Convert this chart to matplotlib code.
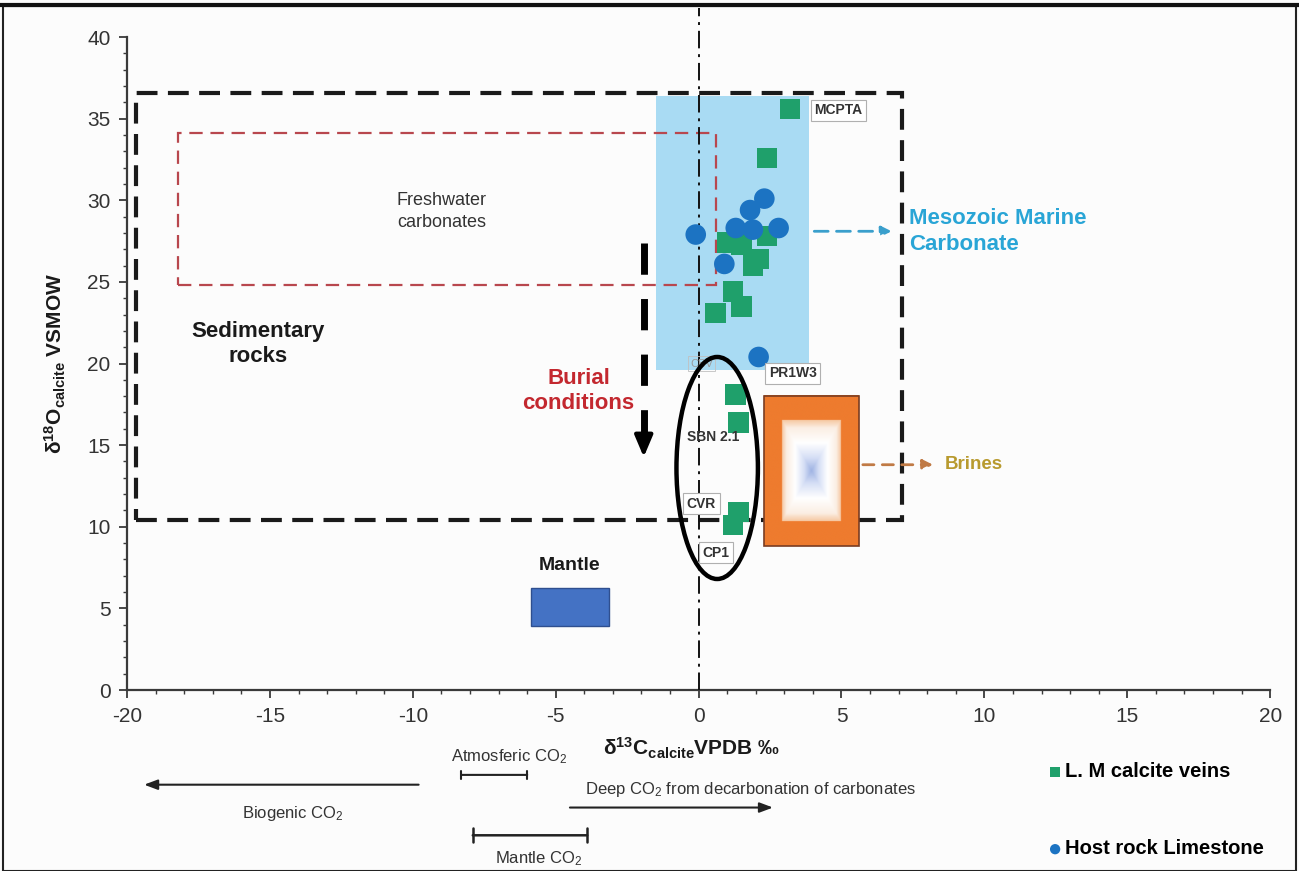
import numpy as np
import matplotlib
matplotlib.use("Agg")
import matplotlib.pyplot as plt
from matplotlib.patches import Rectangle, Ellipse
from matplotlib.colors import LinearSegmentedColormap
from matplotlib.ticker import MultipleLocator

plt.rcParams['font.family'] = ['Liberation Sans', 'DejaVu Sans']
plt.rcParams['mathtext.fontset'] = 'custom'
plt.rcParams['mathtext.rm'] = 'Liberation Sans'
plt.rcParams['mathtext.bf'] = 'Liberation Sans:bold'
plt.rcParams['mathtext.it'] = 'Liberation Sans:italic'
plt.rcParams['axes.unicode_minus'] = False

# L. M calcite veins (d13C, d18O)
veins_x = [3.2, 2.4, 1.0, 1.5, 2.4, 1.9, 2.1, 1.2, 1.5, 0.6, 1.3, 1.4, 1.4, 1.2]
veins_y = [35.6, 32.6, 27.4, 27.3, 27.8, 26.0, 26.4, 24.4, 23.5, 23.1, 18.1, 16.4, 10.9, 10.1]

# host rock limestone
host_x = [2.3, 1.8, 1.3, 1.9, 2.8, -0.1, 0.9, 2.1]
host_y = [30.1, 29.4, 28.3, 28.2, 28.3, 27.9, 26.1, 20.4]

# sample labels
sample_names = ['MCPTA', 'PR1W3', 'SBN 2.1', 'CVR', 'CP1']
sample_x = [4.9, 3.3, 0.5, 0.1, 0.6]
sample_y = [35.5, 19.4, 15.5, 11.4, 8.4]

x_ticks = [-20, -15, -10, -5, 0, 5, 10, 15, 20]
y_ticks = [0, 5, 10, 15, 20, 25, 30, 35, 40]

narrow = ['Liberation Sans Narrow', 'Liberation Sans', 'DejaVu Sans']

fig = plt.figure(figsize=(12.99, 8.71), dpi=100)
fig.patch.set_facecolor('#fcfcfc')
ax = fig.add_axes([0.0978, 0.2078, 0.880, 0.7497])
ax.set_facecolor('#fcfcfc')

ax.set_xlim(-20, 20)
ax.set_ylim(0, 40)
ax.set_xticks(x_ticks)
ax.set_yticks(y_ticks)
ax.xaxis.set_minor_locator(MultipleLocator(1))
ax.yaxis.set_minor_locator(MultipleLocator(1))
for s in ['top', 'right']:
    ax.spines[s].set_visible(False)
for s in ['left', 'bottom']:
    ax.spines[s].set_color('#3a3a3a')
    ax.spines[s].set_linewidth(1.6)
ax.tick_params(which='major', direction='out', length=6, width=1.3, color='#3a3a3a',
               labelsize=15, labelcolor='#333333', pad=6)
ax.tick_params(which='minor', direction='out', length=3, width=1.0, color='#3a3a3a')
for lab in ax.get_xticklabels() + ax.get_yticklabels():
    lab.set_family(narrow)

# field boxes
ax.add_patch(Rectangle((-1.5, 19.6), 5.35, 16.8, facecolor='#a9dbf3', edgecolor='none', zorder=1))
ax.add_patch(Rectangle((-18.2, 24.8), 18.8, 9.3, fill=False, edgecolor='#b8474e',
                       lw=1.6, ls=(0, (6, 3.5)), zorder=2))
ax.add_patch(Rectangle((-19.7, 10.4), 26.8, 26.2, fill=False, edgecolor='#1a1a1a',
                       lw=3, ls=(0, (5, 2.5)), zorder=3))
ax.add_patch(Rectangle((-5.85, 3.95), 2.7, 2.3, facecolor='#4472c4', edgecolor='#2f4f8f',
                       lw=1, zorder=3))

# brines box with a soft inner glow
bx0, bx1, by0, by1 = 2.3, 5.6, 8.8, 18.0
u = np.linspace(-1, 1, 200)
U, V = np.meshgrid(u, u)
Z = np.maximum(np.abs(U) / 0.62, np.abs(V) / 0.67)
glow = LinearSegmentedColormap.from_list('glow', [(0, '#9fb3e3'), (0.25, '#d5def5'),
                                                  (0.55, '#ffffff'), (0.85, '#fbeee3'),
                                                  (1.0, '#f6c9a4')])
glow.set_over('#ee7b2e')
ax.imshow(Z, extent=[bx0, bx1, by0, by1], cmap=glow, vmin=0, vmax=1, aspect='auto',
          origin='lower', interpolation='bilinear', zorder=3)
ax.add_patch(Rectangle((bx0, by0), bx1 - bx0, by1 - by0, fill=False, edgecolor='#7a3d22',
                       lw=1.2, zorder=4))
ax.set_xlim(-20, 20)
ax.set_ylim(0, 40)

# zero line, running up past the top of the axis
ax.plot([0, 0], [0, 41.8], color='#111111', lw=1.4, ls=(0, (9, 3, 1.5, 3)),
        clip_on=False, zorder=4)

# burial arrow
ax.plot([-1.92, -1.92], [27.4, 15.6], color='black', lw=5, ls=(0, (4.5, 3.5)),
        solid_capstyle='butt', zorder=5)
ax.annotate('', xy=(-1.92, 14.1), xytext=(-1.92, 16.0),
            arrowprops=dict(arrowstyle='-|>,head_length=1.3,head_width=0.55',
                            color='black', lw=3), zorder=5)

# data
ax.scatter(veins_x, veins_y, marker='s', s=220, color='#1fa06b', edgecolors='none',
           zorder=6, label='L. M calcite veins')
ax.scatter(host_x, host_y, marker='o', s=220, color='#1c73c2', edgecolors='none',
           zorder=6, label='Host rock Limestone')

# burial ellipse
ax.add_patch(Ellipse((0.65, 13.6), 2.85, 13.6, fill=False, edgecolor='black', lw=3.2, zorder=7))

# sample labels
box = dict(boxstyle='square,pad=0.25', facecolor='white', edgecolor='#b0b0b0', lw=0.8)
for name, x, y in zip(sample_names, sample_x, sample_y):
    ax.text(x, y, name, fontsize=10, fontweight='bold', color='#333333', ha='center',
            va='center', bbox=None if name == 'SBN 2.1' else box, zorder=8)
ax.text(0.1, 20.0, 'CBV', fontsize=8, color='#9a9a9a', ha='center', va='center',
        bbox=dict(boxstyle='square,pad=0.2', facecolor='none', edgecolor='#c0c0c0', lw=0.6),
        zorder=6)

# field names
ax.text(-15.4, 21.2, 'Sedimentary\nrocks', fontsize=16, fontweight='bold', color='#1a1a1a',
        ha='center', va='center', linespacing=1.25)
ax.text(-9.0, 29.3, 'Freshwater\ncarbonates', fontsize=13, color='#333333',
        ha='center', va='center', linespacing=1.4)
ax.text(-4.2, 18.3, 'Burial\nconditions', fontsize=16, fontweight='bold', color='#c3282f',
        ha='center', va='center', linespacing=1.25)
ax.text(-4.5, 7.6, 'Mantle', fontsize=14, fontweight='bold', color='#1a1a1a',
        ha='center', va='center')
ax.text(7.35, 28.1, 'Mesozoic Marine\nCarbonate', fontsize=16, fontweight='bold',
        color='#29a5d6', ha='left', va='center', linespacing=1.3)
ax.text(8.6, 13.8, 'Brines', fontsize=13.5, fontweight='bold', color='#b89a2e',
        ha='left', va='center')

ax.annotate('', xy=(6.85, 28.1), xytext=(3.95, 28.1),
            arrowprops=dict(arrowstyle='-|>,head_length=0.6,head_width=0.3',
                            color='#3a9fcc', lw=2, ls=(0, (5, 3))), zorder=5)
ax.annotate('', xy=(8.3, 13.8), xytext=(5.65, 13.8),
            arrowprops=dict(arrowstyle='-|>,head_length=0.6,head_width=0.3',
                            color='#c07a45', lw=2, ls=(0, (4, 3))), zorder=5)

# axis titles
ax.set_ylabel(r'$\mathbf{\delta^{18}O_{calcite}}$ VSMOW', fontsize=15, fontweight='bold',
              color='#1a1a1a', labelpad=14)
ax.text(-0.25, -3.6, r'$\mathbf{\delta^{13}C_{calcite}}$VPDB ‰', fontsize=15,
        fontweight='bold', color='#1a1a1a', ha='center', va='center', clip_on=False)

# CO2 source bars below the axis
note = dict(fontsize=12, color='#333333', family=narrow, clip_on=False)
ax.text(-6.64, -4.1, 'Atmosferic CO$_2$', ha='center', va='center', **note)
ax.annotate('', xy=(-5.9, -5.2), xytext=(-8.4, -5.2), annotation_clip=False,
            arrowprops=dict(arrowstyle='|-|,widthA=0.3,widthB=0.3', color='#222222', lw=1.5))
ax.annotate('', xy=(-19.5, -5.8), xytext=(-9.7, -5.8), annotation_clip=False,
            arrowprops=dict(arrowstyle='-|>,head_length=0.8,head_width=0.3',
                            color='#222222', lw=1.5))
ax.text(-14.2, -7.55, 'Biogenic CO$_2$', ha='center', va='center', **note)
ax.text(1.8, -6.1, 'Deep CO$_2$ from decarbonation of carbonates', ha='center', va='center', **note)
ax.annotate('', xy=(2.7, -7.2), xytext=(-4.6, -7.2), annotation_clip=False,
            arrowprops=dict(arrowstyle='-|>,head_length=0.8,head_width=0.3',
                            color='#222222', lw=1.5))
ax.annotate('', xy=(-3.8, -8.9), xytext=(-8.0, -8.9), annotation_clip=False,
            arrowprops=dict(arrowstyle='|-|,widthA=0.5,widthB=0.5', color='#222222', lw=1.8))
ax.text(-5.6, -10.3, 'Mantle CO$_2$', ha='center', va='center', **note)

# legend
fig.legend(loc='upper left', bbox_to_anchor=(1038 / 1299, 1 - 752 / 871), frameon=False,
           markerscale=0.5, labelspacing=2.9, handletextpad=0.15, handlelength=0.7,
           borderpad=0, prop=dict(size=14.5, weight='bold'))

# outer frame
fig.add_artist(Rectangle((0.002, 0.0), 0.996, 0.993, transform=fig.transFigure,
                         fill=False, edgecolor='#222222', lw=1.5))
fig.add_artist(plt.Line2D([0, 1], [0.994, 0.994], transform=fig.transFigure,
                          color='#111111', lw=3))

fig.savefig('out.png', dpi=100, facecolor=fig.get_facecolor())
